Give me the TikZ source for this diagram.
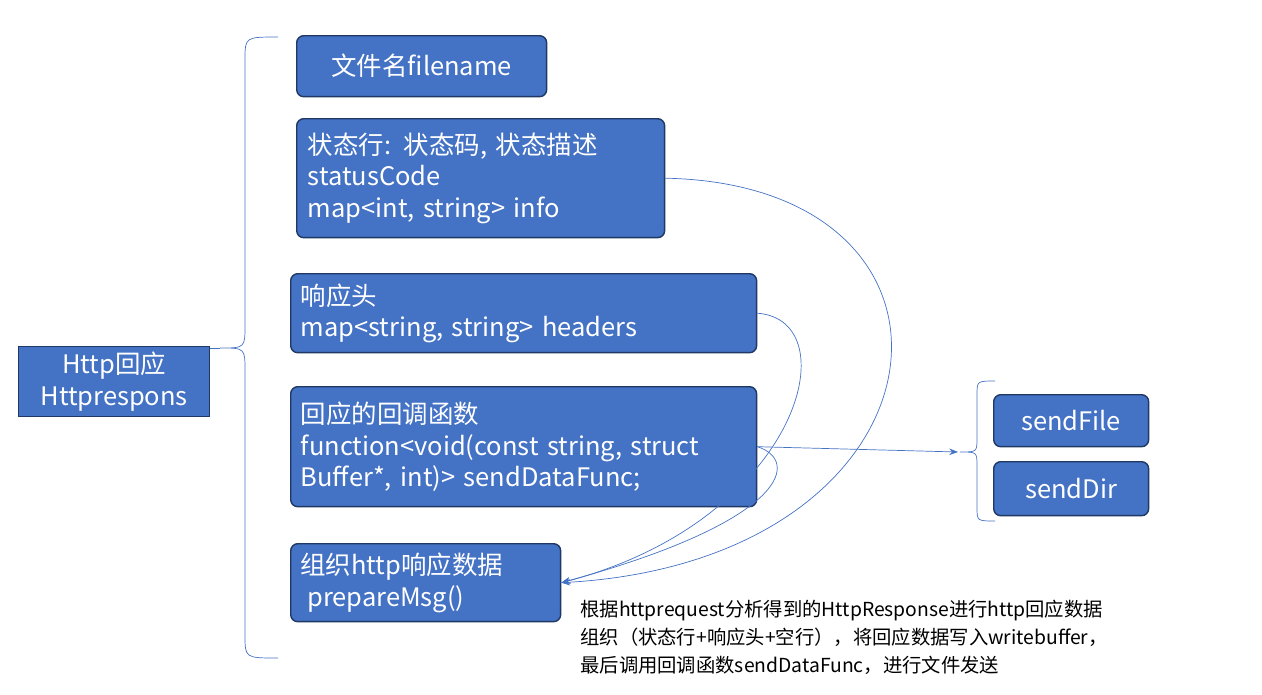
\documentclass[tikz,border=0pt]{standalone}
\usepackage{fontspec}
\setmainfont{Noto Sans CJK SC}
\usetikzlibrary{positioning,arrows.meta}
\definecolor{boxblue}{HTML}{4472C4}
\definecolor{boxline}{HTML}{1F3864}
\begin{document}
\begin{tikzpicture}[x=0.02cm, y=-0.02cm,
    blk/.style={draw=boxline, fill=boxblue, rounded corners=4pt, text=white, font=\fontsize{14.5}{18}\selectfont, align=left, inner sep=0pt, anchor=north west, thick},
    conn/.style={draw=boxblue, thin},
    arr/.style={conn, -{Stealth[length=5pt]}}]
    \useasboundingbox (0,0) rectangle (1262,694);

    \node[blk, minimum width=5cm, minimum height=1.22cm, align=center] (fname) at (296,35) {文件名filename};
    \node[blk, minimum width=7.36cm, minimum height=2.38cm, text width=7.2cm] (status) at (296,118) {\hspace*{4pt}状态行: 状态码, 状态描述\\\hspace*{4pt}statusCode\\\hspace*{4pt}map<int, string> info};
    \node[blk, minimum width=9.32cm, minimum height=1.58cm, text width=9.2cm] (header) at (290,273) {\hspace*{4pt}响应头\\\hspace*{4pt}map<string, string> headers};
    \node[blk, minimum width=9.32cm, minimum height=2.4cm, text width=9.2cm] (cb) at (290,386) {\hspace*{4pt}回应的回调函数\\\hspace*{4pt}function<void(const string, struct\\\hspace*{4pt}Buffer*, int)> sendDataFunc;};
    \node[blk, minimum width=5.4cm, minimum height=1.56cm, text width=5.3cm] (prep) at (290,543) {\hspace*{4pt}组织http响应数据\\\hspace*{8pt}prepareMsg()};
    \node[blk, rounded corners=0pt, minimum width=3.82cm, minimum height=1.4cm, align=center] (http) at (18,346) {Http回应\\Httprespons};
    \node[blk, minimum width=3.1cm, minimum height=1.04cm, align=center] (sfile) at (993,394) {sendFile};
    \node[blk, minimum width=3.1cm, minimum height=1.08cm, align=center] (sdir) at (993,461) {sendDir};

    % braces
    \draw[conn] (278,37) .. controls (245,37) .. (245,60) -- (245,325) .. controls (245,348) .. (220,348)
        .. controls (245,348) .. (245,371) -- (245,635) .. controls (245,658) .. (278,658);
    \draw[conn] (995,381) .. controls (977,381) .. (977,395) -- (977,438) .. controls (977,452) .. (960,452)
        .. controls (977,452) .. (977,466) -- (977,507) .. controls (977,521) .. (995,521);
    \coordinate (bigtip) at (220,348);
    \coordinate (smalltip) at (958,452);
    \draw[conn] (http.east |- bigtip) -- (bigtip);

    % connectors
    \draw[arr] (status.east) .. controls (1000,185) and (960,560) .. (prep.east);
    \draw[arr] (header.east) .. controls (850,320) and (800,520) .. (prep.east);
    \draw[arr] (cb.east) .. controls (800,460) and (790,520) .. (prep.east);
    \draw[arr] (cb.east) -- (smalltip);

    \node[anchor=north west, font=\fontsize{11}{16}\selectfont, align=left, inner sep=0pt] (note) at (580,600)
        {根据httprequest分析得到的HttpResponse进行http回应数据\\组织（状态行+响应头+空行），将回应数据写入writebuffer，\\最后调用回调函数sendDataFunc，进行文件发送};
\end{tikzpicture}
\end{document}
